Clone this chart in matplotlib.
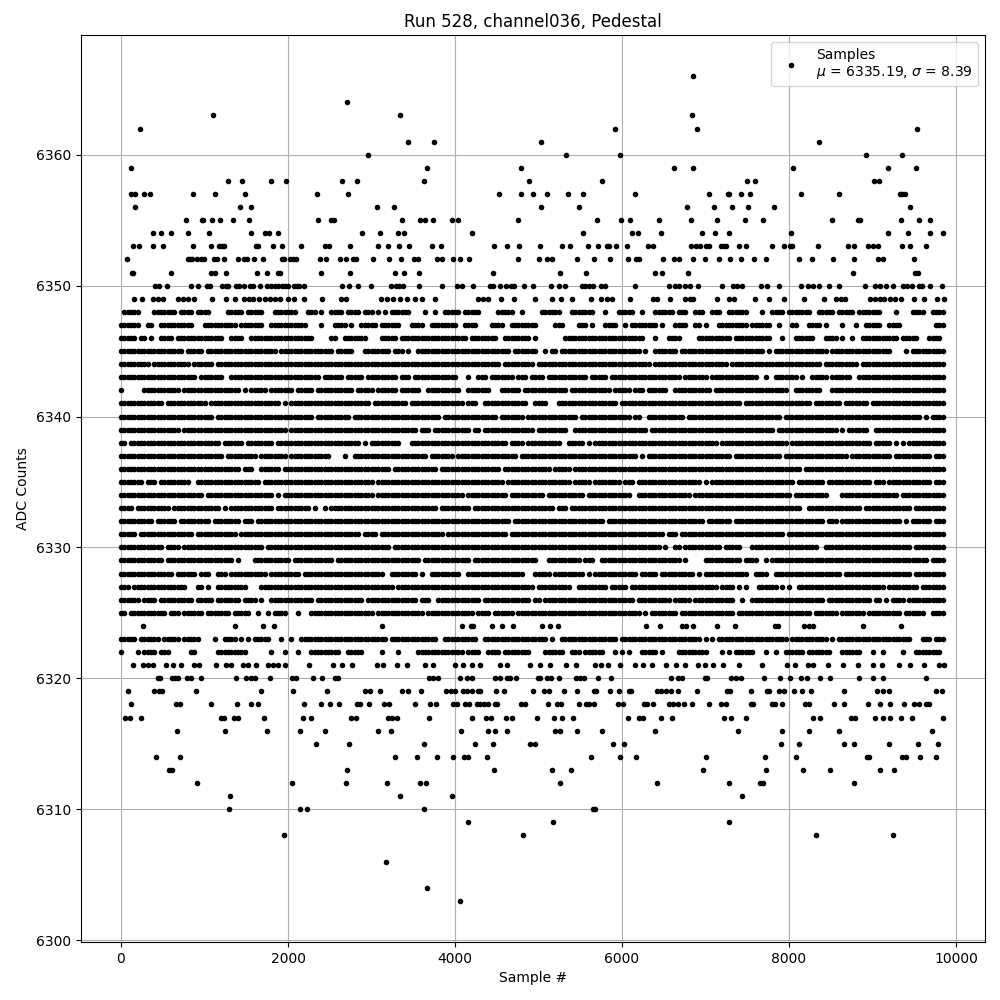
import numpy as np
import matplotlib
matplotlib.use("Agg")
import matplotlib.pyplot as plt

# sparse ADC codes: sample numbers
s6366 = [6852]
s6364 = [2708]
s6363 = [1100, 3344, 6840]
s6362 = [224, 5916, 6900, 9528]
s6361 = [3440, 3752, 5030, 8364]
s6360 = [2960, 5328, 5976, 8916, 9348]
s6359 = [116, 3668, 4796, 6624, 6852, 8052, 9180, 9516]
s6358 = [1280, 1448, 1796, 1976, 2648, 2828, 3632, 4892, 5760, 7500, 7596, 9012, 9076]
s6357 = [116, 168, 276, 344, 860, 1124, 1484, 2348, 2720, 4532, 4796, 4936, 5100, 5352, 5532, 6156, 7044, 7272, 7284,
         7428, 7536, 8148, 8604, 9324, 9352, 9384]
s6356 = [168, 1424, 1560, 3068, 3272, 5028, 5484, 6780, 7104, 7320, 7512, 7824, 9444]
s6355 = [776, 968, 980, 1088, 1184, 1340, 1532, 2360, 2516, 2552, 3368, 3584, 3644, 3740, 3968, 4040, 4760, 5700, 5988,
         6096, 6444, 6828, 7140, 7476, 7692, 8520, 8832, 8848, 9336, 9552, 9684]
s6354 = [380, 476, 596, 800, 1052, 1560, 1724, 1772, 1880, 2888, 3104, 3320, 3392, 4208, 5532, 6120, 6192, 6468, 6960,
         7116, 7284, 8028, 9180, 9420, 9684, 9840]
s6353 = [140, 212, 380, 500, 860, 1076, 1172, 1208, 1232, 1616, 1640, 1820, 1928, 2156, 2444, 2492, 2744, 3080, 3200,
         3332, 3452, 3728, 3836, 4472, 4628, 4772, 5016, 5280, 5376, 5592, 5712, 5820, 5844, 5928, 6060, 6312, 6372,
         6828, 6888, 6936, 7008, 7044, 7188, 7224, 7248, 7404, 7488, 7800, 7944, 8016, 8040, 8352, 8712, 8784, 8940,
         9000, 9060, 9348, 9444, 9636]
s6352 = [68, 800, 824, 848, 908, 956, 992, 1112, 1148, 1232, 1400, 1472, 1508, 1592, 1700, 1928, 1952, 2024, 2060, 2096,
         2384, 2456, 2624, 2696, 2780, 2816, 3020, 3212, 3356, 3512, 3560, 3788, 3848, 3980, 4064, 4172, 4760, 5000,
         5100, 5160, 5460, 5664, 5856, 6072, 6168, 6204, 6492, 6624, 6684, 6852, 6996, 7164, 7296, 7428, 7584, 7728,
         8124, 8280, 8532, 8784, 9060, 9120, 9492]
s6351 = [128, 140, 596, 1076, 1124, 1256, 1628, 1748, 1880, 1904, 2396, 2744, 3284, 3392, 3572, 4460, 5256, 5568, 6396,
         6480, 6792, 8772, 9504, 9540]
s6350 = [404, 452, 548, 836, 920, 1028, 1064, 1208, 1256, 1280, 1376, 1412, 1472, 1544, 1580, 1664, 1748, 1796, 1844,
         1880, 1928, 1964, 2000, 2072, 2108, 2132, 2192, 2648, 2732, 2840, 2996, 3236, 3296, 3332, 3380, 3572, 3848,
         4028, 4088, 4220, 4424, 4460, 4544, 4616, 4676, 4712, 4832, 4936, 5148, 5244, 5316, 5520, 5556, 5604, 5652,
         5748, 5796, 6156, 6564, 6636, 6684, 6756, 6816, 6912, 7200, 7332, 7380, 7440, 7668, 7740, 7884, 8148, 8232,
         8292, 8364, 8484, 8604, 8904, 9024, 9084, 9156, 9240, 9360, 9408, 9468, 9552, 9588, 9684, 9828]
s6349 = [152, 248, 380, 440, 500, 680, 740, 800, 880, 1088, 1256, 1364, 1472, 1532, 1580, 1652, 1720, 1788, 1848, 1908,
         2000, 2072, 2192, 2408, 2640, 2700, 3112, 3180, 3260, 3340, 3420, 3520, 3600, 3764, 4280, 4340, 4400, 4556,
         4712, 4952, 5160, 5268, 5400, 5628, 5748, 5820, 5880, 6096, 6372, 6420, 6576, 6756, 6812, 6852, 7140, 7284,
         7344, 7596, 7764, 7944, 8184, 8424, 8568, 8620, 8676, 8964, 9024, 9084, 9132, 9212, 9272, 9340, 9492, 9612,
         9772, 9852]
s6324 = [260, 1364, 1700, 1832, 3128, 4088, 4188, 4220, 4448, 4568, 4700, 5044, 5140, 5232, 6288, 6456, 6724, 6772, 6852,
         7140, 7356, 7832, 7872, 8184, 8244, 8292, 8880, 9336]
s6321 = [140, 260, 320, 380, 540, 620, 720, 880, 940, 1140, 1260, 1320, 1460, 1520, 1620, 1760, 1820, 1880, 1960, 2252,
         2540, 2648, 2768, 3060, 3140, 3300, 3420, 3640, 3740, 3996, 4100, 4200, 4300, 4540, 4620, 4900, 5020, 5140, 5332,
         5452, 5672, 5752, 5832, 5972, 6152, 6252, 6360, 6532, 6652, 6752, 6912, 6992, 7092, 7212, 7404, 7672, 7972, 8072,
         8232, 8292, 8472, 8652, 8832, 9004, 9112, 9312, 9444, 9612, 9792, 9852]
s6320 = [440, 464, 608, 644, 680, 788, 836, 956, 1376, 1496, 1556, 1604, 1784, 2048, 2096, 2300, 2408, 2564, 2600, 3692,
         3740, 3800, 4064, 4148, 4200, 4484, 4544, 4628, 4664, 4736, 4988, 5016, 5100, 5148, 5244, 5448, 5496, 5544, 5712,
         5868, 6588, 6672, 6720, 6996, 7020, 7308, 7368, 7428, 7704, 7896, 8016, 8148, 8220, 8376, 8496, 8844, 9000, 9120,
         9636]
s6319 = [80, 392, 460, 488, 896, 1676, 2060, 2468, 2924, 2984, 3104, 3368, 3440, 3596, 3896, 3956, 4004, 4100, 4148, 4208,
         4280, 4304, 4496, 4592, 4936, 5068, 5128, 5304, 5460, 5664, 5688, 5856, 5964, 6084, 6108, 6420, 6468, 6528, 6588,
         6672, 6900, 7260, 7296, 7548, 7740, 7764, 7884, 7944, 8064, 8160, 8264, 8664, 9048, 9120, 9192, 9756, 9828]
s6318 = [116, 656, 704, 1076, 1388, 1556, 1640, 2192, 2396, 2504, 2612, 2828, 2864, 2972, 3152, 3212, 3524, 3704, 3776,
         3980, 4028, 4124, 4172, 4268, 4304, 4352, 4400, 4484, 4508, 4796, 4844, 5112, 5220, 5268, 5484, 5568, 5604, 5664,
         5952, 6012, 6264, 6300, 6372, 6564, 6612, 6672, 6744, 6840, 7044, 7188, 7248, 7548, 7572, 7800, 7836, 7920, 8196,
         8244, 8544, 8664, 8940, 9084, 9204, 9372, 9492, 9552, 9636, 9672]
s6317 = [44, 104, 236, 1196, 1232, 1352, 1400, 1712, 2180, 2276, 2756, 2816, 3200, 3248, 3308, 3692, 4208, 4376, 4436, 4616,
         4688, 4976, 5184, 5280, 5412, 6072, 6204, 6252, 6468, 6600, 7224, 7308, 7488, 8292, 8376, 8748, 8796, 9024, 9120,
         9204, 9336, 9468, 9840]
s6316 = [668, 1244, 1748, 2144, 2444, 3080, 3236, 4076, 4400, 4476, 4628, 5196, 5256, 5460, 5760, 6396, 7392, 7920, 8244,
         8604, 9708]
s6315 = [2336, 2732, 3632, 4244, 4460, 4904, 4960, 5892, 6024, 7908, 8124, 8664, 8784, 9192, 9540, 9780]
s6314 = [416, 704, 3284, 3548, 3788, 3980, 4112, 4160, 4388, 5628, 5976, 6168, 7008, 7716, 8088, 8928, 8952, 9348, 9396,
         9564, 9756]
s6313 = [572, 608, 2708, 4472, 5160, 5388, 6972, 7728, 8172, 8496, 9084, 9252]
s6312 = [908, 2048, 2696, 3188, 3584, 3656, 5256, 6420, 7284, 7656, 7692, 8784]
s6311 = [1304, 3344, 3968, 7440]
s6310 = [1292, 2144, 2228, 3632, 5652, 5676]
s6309 = [4160, 5172, 7284]
s6308 = [1952, 4820, 8328, 9240]
s6306 = [3176]
s6304 = [3668]
s6303 = [4064]

sparse = {6366: s6366, 6364: s6364, 6363: s6363, 6362: s6362, 6361: s6361, 6360: s6360, 6359: s6359, 6358: s6358,
          6357: s6357, 6356: s6356, 6355: s6355, 6354: s6354, 6353: s6353, 6352: s6352, 6351: s6351, 6350: s6350,
          6349: s6349, 6324: s6324, 6321: s6321, 6320: s6320, 6319: s6319, 6318: s6318, 6317: s6317, 6316: s6316,
          6315: s6315, 6314: s6314, 6313: s6313, 6312: s6312, 6311: s6311, 6310: s6310, 6309: s6309, 6308: s6308,
          6306: s6306, 6304: s6304, 6303: s6303}

# dense ADC codes: too many samples to list, one char per 40 samples, # = sample seen
# first string starts at sample 0, second at sample 5000
m6348 = ("-#####----#######-####-####-----#####-#####---#######---###-#--####-####-###-#-#-######----#--#--#####-#####-----#####--#-----#",
         "-######---#######---#---#####--#---######-###--###--###--######----#--####-#######--#####-#####-#######----#----####--####")
m6347 = ("######--##--##########---##########-#######--###########----#---####-#--#####-######---####--########--####----####--##########",
         "-----###----###-#---####--#-########-#---####--##-#---#########-######--#---##---####-#----#---#--#####--####----------####")
m6346 = ("#####-##-#--####-##############--####--###################-----##--#######----#####-####################-########--########-###",
         "--------########################---#---####-----##########-###########---#---######---####-#--#--###########-#####---####")
m6345 = ("###################-#####-#####################-################-#####---########-###-#--############################-##########",
         "--#-##-########################-#--#######-#########################-#-################-##################----#-##########--###")
m6344 = ("#########-###########-######-#####################################################################################-#########-###",
         "##################################-######################-###########################-##########-###########################")
m6343 = ("#######################-#######--###########################-######-#####-#########-###-#############---#--###-#######-###-#######",
         "##-############-#####-#####################-#######-##############--#--#######-#--#####-######--########################################")
m6342 = ("#------###########-#################-#-#####-#######-#####-###########-#####-######-######--##########--#######---######-#####-##",
         "#########-############-#####-###-######--###########-######################--########---######################################")
m6341 = ("#############-############-#####################-#-########################-##########-################-###--#############--######",
         "###---##################-####################################-####################-########-#######-##########################")
m6340 = ("############################-#############################-##########-##########################-################-#######-########",
         "############-###############-##--###########-############################-#########################################-#-#########")
m6339 = ("##################-###############################-######################################-###-###########-##-###############-#####",
         "#########--######################-#####################################-##################-#-######--######################")
m6338 = ("##-###########################-######-########-#########################-#-#########---#############################-####-####-#",
         "#######--#####-#-#####################################-####################-########################-#####-#-#-##############")
m6337 = ("###############################-#########-########-############----#--######################-#######-##################-########-#",
         "##############################-#-#########################-##############-###################-############-###########-#######")
m6336 = ("####################################-###--######-################################-#############-##################-##############",
         "####-#####-####################################################################-##########################################-###########")
m6335 = ("#######-###-#########--###################-#################################-######################################-##########",
         "##########-#####-########-###-###################-#-#########################-########-#############-###-#############-######--#")
m6334 = ("#########################-####################-#-###########################-##########################-############-###########",
         "##-###########-#############--################-#############################-##########----#################-##################")
m6333 = ("####-##########-##############-#-#############-##########-#--#-################################-#########-#####################-#####",
         "#####-###-#####################################################################--################-##############-############")
m6332 = ("##########-######-#########-########-###-############################################################################-#######-###########",
         "####################-#############################-#######-###########################-###-##################-#-######-########")
m6331 = ("#####-################-############-####################################-####-###################-##################-#############",
         "######################################-###-###############################-#################################################")
m6330 = ("#############-####-########################-#####################################-############################################",
         "#####################################-#--##-###########-#####---####################--##########################-#############")
m6329 = ("#############-####################-#----###########-############-#########################-##############-####################",
         "---##########-###--########################-#-----###########-####--#-###############################################-########")
m6328 = ("################-######-###--###-###########-#########-########################--########-#--#########--#################---#",
         "####-#########-#-#############-#####-##########-#-#############--####--####################-####################-#########")
m6327 = ("###-################---##-#--#########----########################################-#########################################",
         "##########--#########-#####-##########################-####-#-#---######-#-#--##########################-#########-#######-#######---#####-#")
m6326 = ("######-####-##########-#####-#######-####-#--#############-##############-###############-###--#############-##############-######--#",
         "#-###########################-##########-#####-############--#--######################-#############-##-#-####-###############")
m6325 = ("##-###########-###-######-#######-#####--#--#-####---#---###################-##############-##############-####-######-######--####",
         "###############################-#-########-################-######################-#######-#######-##########-######--####--####")
m6323 = ("#####-######-#####-#####----#--####-#-#-#####---#--#--##########################-##############--##########--##################",
         "###-#--#################-########################-#-#-#####################-###########-#-######################---###-####")
m6322 = ("#----#-####-###------##------#########-------#---#---#---#########--#####-----#----#-----##############-####--####-########--#",
         "--######--###-######---#-#-#---#####-#----#########----#-#-######---#--#--######-#######---######---#--#-----#---########")

dense = {6348: m6348, 6347: m6347, 6346: m6346, 6345: m6345, 6344: m6344, 6343: m6343, 6342: m6342, 6341: m6341,
         6340: m6340, 6339: m6339, 6338: m6338, 6337: m6337, 6336: m6336, 6335: m6335, 6334: m6334, 6333: m6333,
         6332: m6332, 6331: m6331, 6330: m6330, 6329: m6329, 6328: m6328, 6327: m6327, 6326: m6326, 6325: m6325,
         6323: m6323, 6322: m6322}

x = []
y = []
for code, samples in sparse.items():
    x += samples
    y += [code] * len(samples)
for code, (left, right) in dense.items():
    for i, c in enumerate(left[:125]):
        if c == "#":
            x.append(i * 40)
            y.append(code)
    for i, c in enumerate(right[:122]):
        if c == "#":
            x.append(5000 + i * 40)
            y.append(code)

fig, ax = plt.subplots(figsize=(10, 10))
ax.plot(x, y, ".", color="black", label="Samples\n$\\mu$ = 6335.19, $\\sigma$ = 8.39")
ax.set_xlim(-479, 10347)
ax.set_title("Run 528, channel036, Pedestal")
ax.set_xlabel("Sample #")
ax.set_ylabel("ADC Counts")
ax.legend(loc="upper right")
ax.grid(True)
fig.subplots_adjust(left=0.081, right=0.985, top=0.965, bottom=0.058)
fig.savefig("out.png", dpi=100)
